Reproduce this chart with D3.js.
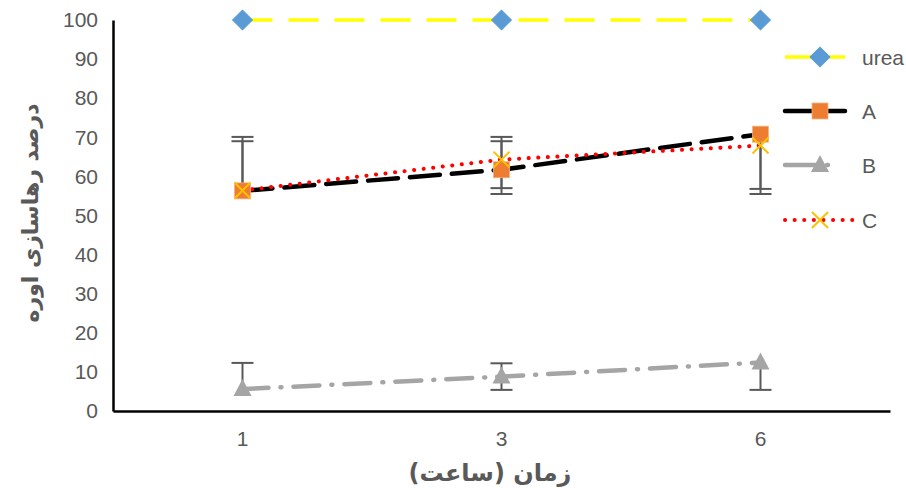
<!DOCTYPE html>
<html><head><meta charset="utf-8">
<script src="https://cdn.jsdelivr.net/npm/d3@7"></script>
<style>body{margin:0;background:#fff}svg{display:block;font-family:"Liberation Sans","DejaVu Sans",sans-serif}</style>
</head><body>
<svg id="c" width="906" height="488"></svg>
<script>
const categories = ["1","3","6"];
const yTicks = [0,10,20,30,40,50,60,70,80,90,100];
const ureaValues = [100,100,100];
const aValues = [56.3,61.7,70.8];
const bValues = [5.6,8.8,12.4];
const cValues = [56.4,64.3,67.9];
// error bar end points (null = none)
const aErrHigh = [70.1,70.1,null];
const aErrLow  = [null,55.5,55.5];
const cErrHigh = [69.0,69.0,null];
const cErrLow  = [null,57.0,56.8];
const bErrHigh = [12.3,12.2,null];
const bErrLow  = [null,5.4,5.4];
const seriesNames = ["urea","A","B","C"];

const svg = d3.select("#c");
const L=113,R=890,T=20,B=411;
const x = d3.scaleBand().domain(categories).range([L,R]);
const y = d3.scaleLinear().domain([0,100]).range([B,T]);
const cx = d => x(d)+x.bandwidth()/2;

// axes
const yAxis = d3.axisLeft(y).tickValues(yTicks).tickSize(0).tickPadding(15);
const gy = svg.append("g").attr("transform",`translate(${L},0)`).call(yAxis);
gy.select(".domain").attr("stroke","#000").attr("stroke-width",2.5);
gy.selectAll("text").attr("font-size",21).attr("fill","#595959");
const xAxis = d3.axisBottom(x).tickSize(0).tickPadding(20);
const gx = svg.append("g").attr("transform",`translate(0,${B})`).call(xAxis);
gx.select(".domain").attr("stroke","#000").attr("stroke-width",2.5);
gx.selectAll("text").attr("font-size",21).attr("fill","#595959");

// titles
svg.append("text").attr("x",490).attr("y",481).attr("text-anchor","middle")
  .attr("font-size",24).attr("font-weight","bold").attr("fill","#595959")
  .attr("font-family","'DejaVu Sans',sans-serif").attr("direction","rtl").text("زمان (ساعت)");
svg.append("text").attr("transform","translate(38,213) rotate(-90)").attr("text-anchor","middle")
  .attr("font-size",22).attr("font-weight","bold").attr("fill","#595959")
  .attr("font-family","'DejaVu Sans',sans-serif").attr("direction","rtl").text("درصد رهاسازی اوره");

// error bars
const errColor="#595959";
function errBars(vals, hi, lo){
  const g=svg.append("g");
  categories.forEach((c,i)=>{
    [hi[i],lo[i]].forEach(e=>{
      if(e==null) return;
      g.append("line").attr("x1",cx(c)).attr("x2",cx(c)).attr("y1",y(vals[i])).attr("y2",y(e))
        .attr("stroke",errColor).attr("stroke-width",2);
      g.append("line").attr("x1",cx(c)-11).attr("x2",cx(c)+11).attr("y1",y(e)).attr("y2",y(e))
        .attr("stroke",errColor).attr("stroke-width",2);
    });
  });
}
errBars(aValues,aErrHigh,aErrLow);
errBars(cValues,cErrHigh,cErrLow);
errBars(bValues,bErrHigh,bErrLow);

const line = d3.line().x((d,i)=>cx(categories[i])).y(d=>y(d));
const styles = {
  urea:{vals:ureaValues,color:"#FFFF00",w:3.5,dash:"30,16",cap:"butt"},
  A:{vals:aValues,color:"#000",w:4.5,dash:"30,12",cap:"round"},
  B:{vals:bValues,color:"#A5A5A5",w:4.5,dash:"26,12,1,12",cap:"round"},
  C:{vals:cValues,color:"#FF0000",w:4,dash:"0.1,9.5",cap:"round"}
};
function marker(g,name,px,py){
  if(name==="urea"){
    g.append("rect").attr("x",px-7).attr("y",py-7).attr("width",14).attr("height",14)
      .attr("transform",`rotate(45,${px},${py})`).attr("fill","#5B9BD5").attr("stroke","#5B9BD5");
  } else if(name==="A"){
    g.append("rect").attr("x",px-8).attr("y",py-8).attr("width",16).attr("height",16)
      .attr("fill","#ED7D31").attr("stroke","#F4B183").attr("stroke-width",0.8);
  } else if(name==="B"){
    g.append("path").attr("d",`M${px},${py-10}L${px+9},${py+7}L${px-9},${py+7}Z`).attr("fill","#A5A5A5");
  } else {
    g.append("path").attr("d",`M${px-8},${py-8}L${px+8},${py+8}M${px+8},${py-8}L${px-8},${py+8}`)
      .attr("stroke","#FFC000").attr("stroke-width",2);
  }
}
seriesNames.forEach(n=>{
  const s=styles[n];
  svg.append("path").datum(s.vals).attr("d",line).attr("fill","none").attr("stroke",s.color)
    .attr("stroke-width",s.w).attr("stroke-dasharray",s.dash).attr("stroke-linecap",s.cap);
});
seriesNames.forEach(n=>{
  const g=svg.append("g");
  styles[n].vals.forEach((v,i)=>marker(g,n,cx(categories[i]),y(v)));
});

// legend
const legY=[57,111,165,220];
seriesNames.forEach((n,i)=>{
  const s=styles[n], g=svg.append("g");
  const yy=legY[i];
  g.append("line").attr("x1",785).attr("x2",855).attr("y1",yy).attr("y2",yy)
    .attr("stroke",s.color).attr("stroke-width",s.w).attr("stroke-dasharray",
      n==="C"?s.dash:(n==="B"?"30,12,1,30":"30,10,20,10")).attr("stroke-linecap",s.cap);
  marker(g,n,820,yy);
  g.append("text").attr("x",862).attr("y",yy+7.5).attr("font-size",21).attr("fill","#595959").text(n);
});
</script>
</body></html>
